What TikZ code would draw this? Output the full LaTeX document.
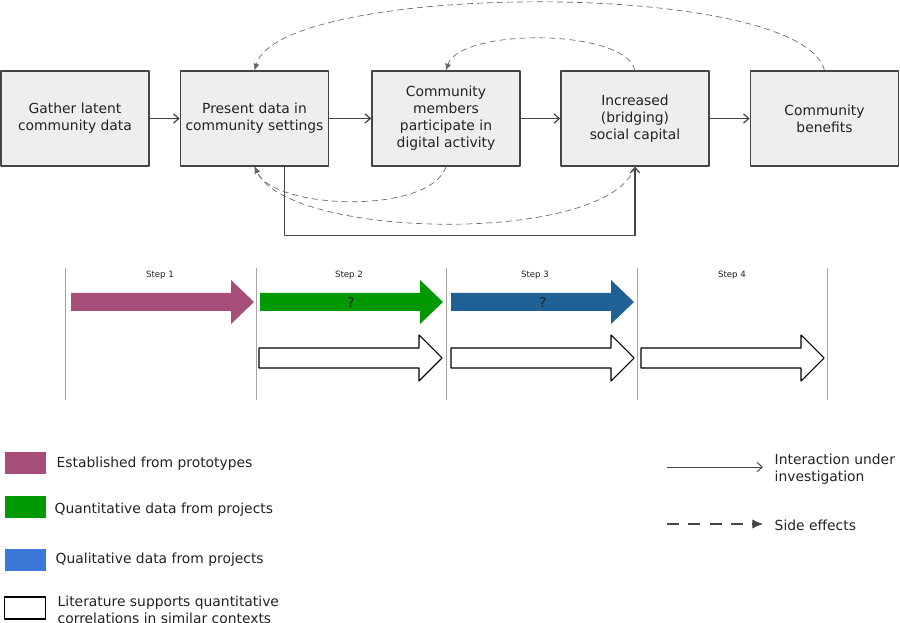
\documentclass[tikz,border=0pt]{standalone}
\usepackage{fontspec}
\setmainfont{DejaVu Sans}
\usetikzlibrary{arrows.meta}
\definecolor{boxfill}{HTML}{EEEEEE}
\definecolor{boxline}{HTML}{444444}
\definecolor{inktext}{HTML}{222222}
\definecolor{sidegray}{HTML}{666666}
\definecolor{stepmagenta}{HTML}{A64D79}
\definecolor{stepgreen}{HTML}{009900}
\definecolor{stepblue}{HTML}{1F6095}
\definecolor{legendblue}{HTML}{3C78D8}
\tikzset{
  box/.style={draw=boxline,line width=1.2pt,fill=boxfill,minimum width=111pt,minimum height=71pt,
    align=center,text=inktext,font=\fontsize{10.4}{12.75}\selectfont},
  flow/.style={draw=boxline,line width=0.9pt,-{Straight Barb[length=4pt,width=7pt]}},
  side/.style={draw=sidegray,line width=0.5pt,dash pattern=on 4.5pt off 3pt,-{Latex[length=5pt,width=4.5pt]}},
  steprule/.style={draw=gray!70,line width=0.6pt},
  steplabel/.style={text=inktext,font=\fontsize{6.5}{8}\selectfont},
  swatch/.style={minimum width=30.75pt,minimum height=16.5pt,inner sep=0pt},
  legendtext/.style={anchor=west,align=left,text=inktext,font=\fontsize{10.4}{12.75}\selectfont},
}
\begin{document}
\begin{tikzpicture}[x=0.75pt,y=-0.75pt,line join=round]
  \useasboundingbox (0,0) rectangle (900,623);
  % process chain
  \node[box] (gather) at (75,118.5) {Gather latent\\community data};
  \node[box] (present) at (254.5,118.5) {Present data in\\community settings};
  \node[box] (participate) at (446,118.5) {Community\\members\\participate in\\digital activity};
  \node[box] (social) at (635,118.5) {Increased\\(bridging)\\social capital};
  \node[box] (benefits) at (824.5,118.5) {Community\\benefits};
  \draw[flow] (gather) -- (present);
  \draw[flow] (present) -- (participate);
  \draw[flow] (participate) -- (social);
  \draw[flow] (social) -- (benefits);
  \draw[flow] ([xshift=22.5pt]present.south) -- ++(0,69) -| (social.south);
  % side effects
  \draw[side] (benefits.north) .. controls (800,-22) and (280,-18) .. (present.north);
  \draw[side] (social.north) .. controls (625,28) and (460,28) .. (participate.north);
  \draw[side] (participate.south) .. controls (430,215) and (275,210) .. (present.south);
  \draw[side] (social.south) .. controls (610,245) and (290,240) .. (present.south);
  % steps
  \foreach \xr in {65,256,446,637,827} \draw[steprule] (\xr,268) -- (\xr,400);
  \foreach \xs/\num in {160/1,349/2,535/3,732/4} \node[steplabel] (step\num) at (\xs,275) {Step \num};
  \foreach \xa/\col in {71/stepmagenta,260/stepgreen,451/stepblue}
    \fill[\col] (\xa,293) -- (\xa+160,293) -- (\xa+160,280) -- (\xa+183,302) -- (\xa+160,324) -- (\xa+160,311) -- (\xa,311) -- cycle;
  \foreach \xa in {259,451,641}
    \filldraw[draw=black,fill=white,line width=0.8pt] (\xa,348) -- (\xa+160,348) -- (\xa+160,335) -- (\xa+183,358) -- (\xa+160,381) -- (\xa+160,368) -- (\xa,368) -- cycle;
  \node[text=inktext,font=\fontsize{10}{12}\selectfont] (askquant) at (351,303) {?};
  \node[text=inktext,font=\fontsize{10}{12}\selectfont] (askqual) at (543,303) {?};
  % legend
  \node[swatch,fill=stepmagenta] (legmagenta) at (25.5,463) {};
  \node[swatch,fill=stepgreen] (leggreen) at (25,507) {};
  \node[swatch,fill=legendblue] (legblue) at (25,559.5) {};
  \node[swatch,draw=black,line width=1pt,fill=white] (legwhite) at (25,608) {};
  \node[legendtext] (txtmagenta) at (52,464) {Established from prototypes};
  \node[legendtext] (txtgreen) at (50,510) {Quantitative data from projects};
  \node[legendtext] (txtblue) at (51,560) {Qualitative data from projects};
  \node[legendtext] (txtwhite) at (53,609.5) {Literature supports quantitative\\correlations in similar contexts};
  \coordinate (solidA) at (667,467); \coordinate (solidB) at (763,467);
  \coordinate (dashA) at (667,524); \coordinate (dashB) at (763,524);
  \draw[flow,line width=0.7pt] (solidA) -- (solidB);
  \draw[draw=boxline,line width=0.8pt,dash pattern=on 9pt off 7pt,-{Latex[length=8pt,width=7pt]}] (dashA) -- (dashB);
  \node[legendtext] (txtsolid) at (770,469) {Interaction under\\investigation};
  \node[legendtext] (txtdash) at (770,525) {Side effects};
\end{tikzpicture}
\end{document}
